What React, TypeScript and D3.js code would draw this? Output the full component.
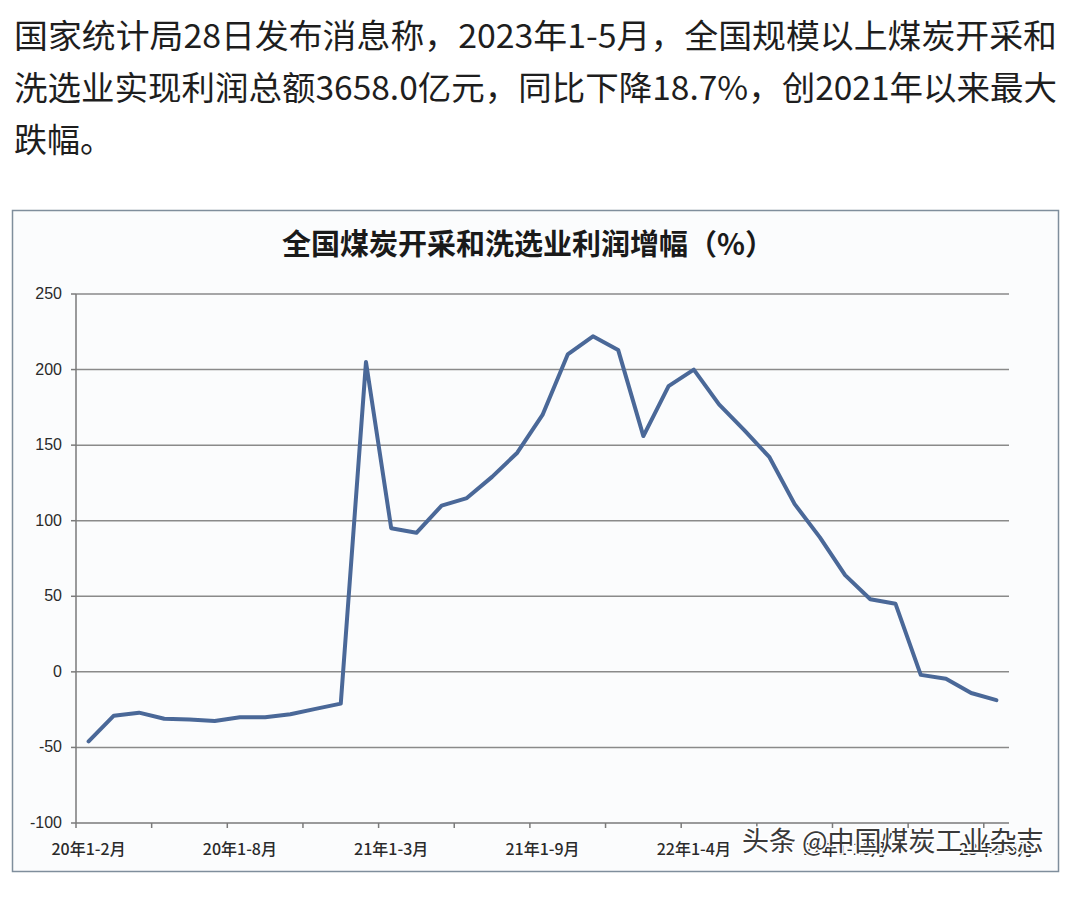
import React, { useEffect, useRef } from "react";
import * as d3 from "d3";

const headerLines: string[] = [
  "国家统计局28日发布消息称，2023年1-5月，全国规模以上煤炭开采和",
  "洗选业实现利润总额3658.0亿元，同比下降18.7%，创2021年以来最大",
  "跌幅。",
];

const chartTitle = "全国煤炭开采和洗选业利润增幅（%）";
const watermark = "头条 @中国煤炭工业杂志";

const categories: string[] = [
  "20年1-2月", "20年1-3月", "20年1-4月", "20年1-5月", "20年1-6月", "20年1-7月",
  "20年1-8月", "20年1-9月", "20年1-10月", "20年1-11月", "20年1-12月",
  "21年1-2月", "21年1-3月", "21年1-4月", "21年1-5月", "21年1-6月", "21年1-7月",
  "21年1-8月", "21年1-9月", "21年1-10月", "21年1-11月", "21年1-12月",
  "22年1-2月", "22年1-3月", "22年1-4月", "22年1-5月", "22年1-6月", "22年1-7月",
  "22年1-8月", "22年1-9月", "22年1-10月", "22年1-11月", "22年1-12月",
  "23年1-2月", "23年1-3月", "23年1-4月", "23年1-5月",
];

const profitGrowth: number[] = [
  -46, -29, -27, -31, -31.5, -32.5, -30, -30, -28, -24.5, -21,
  205, 95, 92, 110, 115, 129, 145, 170, 210, 222, 213,
  156, 189, 200, 177, 160, 142, 111, 89, 64, 48, 45,
  -2, -4.5, -14, -18.7,
];

const yTicks: number[] = [-100, -50, 0, 50, 100, 150, 200, 250];
const labelEvery = 6;
const tickEvery = 3;

export default function App() {
  const ref = useRef<SVGSVGElement>(null);

  useEffect(() => {
    const svg = d3.select(ref.current);
    svg.selectAll("*").remove();

    const W = 1080, H = 921;
    svg.append("rect").attr("width", W).attr("height", H).attr("fill", "#ffffff");

    // header text
    const header = svg.append("g");
    headerLines.forEach((t, i) => {
      const el = header.append("text")
        .attr("x", 14)
        .attr("y", 48 + i * 52)
        .attr("font-family", "'Noto Sans CJK SC', 'Noto Sans', sans-serif")
        .attr("font-size", 33)
        .attr("fill", "#1e1e1e")
        .text(t);
      if (i < 2) el.attr("textLength", 1043).attr("lengthAdjust", "spacingAndGlyphs");
    });

    // chart box
    svg.append("rect")
      .attr("x", 12.5).attr("y", 210.5)
      .attr("width", 1046).attr("height", 661)
      .attr("fill", "#fbfcfd")
      .attr("stroke", "#7f8e9c")
      .attr("stroke-width", 1.5);

    svg.append("text")
      .attr("x", 528).attr("y", 255)
      .attr("text-anchor", "middle")
      .attr("font-family", "'Noto Sans CJK SC', sans-serif")
      .attr("font-weight", 700)
      .attr("font-size", 29)
      .attr("fill", "#1a1a1a")
      .text(chartTitle);

    const left = 76, right = 1009, top = 294, bottom = 823;
    const x = d3.scaleBand<string>().domain(categories).range([left, right]).padding(0);
    const y = d3.scaleLinear().domain([-100, 250]).range([bottom, top]);

    const g = svg.append("g");

    // gridlines
    g.selectAll("line.grid")
      .data(yTicks.filter((v) => v !== -100))
      .join("line")
      .attr("x1", left).attr("x2", right)
      .attr("y1", (d) => y(d)).attr("y2", (d) => y(d))
      .attr("stroke", "#8a8a8a").attr("stroke-width", 1.5);

    // y axis
    g.append("line")
      .attr("x1", left).attr("x2", left).attr("y1", top).attr("y2", bottom)
      .attr("stroke", "#7a7a7a").attr("stroke-width", 1.5);
    g.selectAll("line.ytick")
      .data(yTicks)
      .join("line")
      .attr("x1", left - 5).attr("x2", left)
      .attr("y1", (d) => y(d)).attr("y2", (d) => y(d))
      .attr("stroke", "#7a7a7a").attr("stroke-width", 1.5);
    g.selectAll("text.ylab")
      .data(yTicks)
      .join("text")
      .attr("x", 62).attr("y", (d) => y(d) + 5)
      .attr("text-anchor", "end")
      .attr("font-family", "'Liberation Sans', 'DejaVu Sans', sans-serif")
      .attr("font-size", 16)
      .attr("fill", "#2a2a2a")
      .text((d) => String(d));

    // x axis
    g.append("line")
      .attr("x1", left).attr("x2", right).attr("y1", bottom).attr("y2", bottom)
      .attr("stroke", "#7a7a7a").attr("stroke-width", 1.5);
    const tickIdx = d3.range(0, categories.length + 1, tickEvery);
    g.selectAll("line.xtick")
      .data(tickIdx)
      .join("line")
      .attr("x1", (i) => left + i * x.bandwidth())
      .attr("x2", (i) => left + i * x.bandwidth())
      .attr("y1", bottom).attr("y2", bottom + 5)
      .attr("stroke", "#7a7a7a").attr("stroke-width", 1.5);
    g.selectAll("text.xlab")
      .data(categories.filter((_, i) => i % labelEvery === 0))
      .join("text")
      .attr("x", (d) => (x(d) as number) + x.bandwidth() / 2)
      .attr("y", 855)
      .attr("text-anchor", "middle")
      .attr("font-family", "'Noto Sans CJK SC', sans-serif")
      .attr("font-weight", 500)
      .attr("font-size", 16)
      .attr("fill", "#2a2a2a")
      .text((d) => d);

    // line
    const line = d3.line<number>()
      .x((_, i) => (x(categories[i]) as number) + x.bandwidth() / 2)
      .y((d) => y(d));
    g.append("path")
      .datum(profitGrowth)
      .attr("d", line)
      .attr("fill", "none")
      .attr("stroke", "#4a6898")
      .attr("stroke-width", 4)
      .attr("stroke-linejoin", "round")
      .attr("stroke-linecap", "round");

    // watermark
    svg.append("text")
      .attr("x", 742).attr("y", 851)
      .attr("font-family", "'Noto Sans CJK SC', sans-serif")
      .attr("font-size", 27)
      .attr("fill", "#3a3a3a")
      .attr("stroke", "#ffffff")
      .attr("stroke-width", 3)
      .attr("paint-order", "stroke")
      .text(watermark);
  }, []);

  return (
    <svg
      ref={ref}
      width={1080}
      height={921}
      style={{ position: "absolute", left: 0, top: 0, display: "block" }}
    />
  );
}
